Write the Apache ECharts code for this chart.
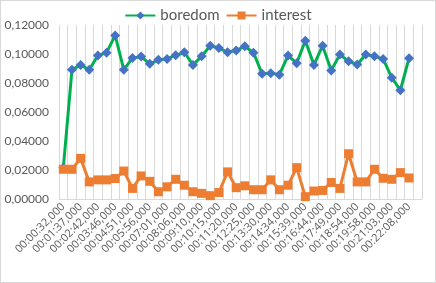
<!DOCTYPE html>
<html><head><meta charset="utf-8">
<script src="https://cdn.jsdelivr.net/npm/echarts@6/dist/echarts.min.js"></script>
<style>html,body{margin:0;padding:0;background:#fff}#c{width:434px;height:281px;border:1px solid #d9d9d9}</style>
</head><body><div id="c"></div>
<script>
var categories = ["00:00:32,000","00:01:04,000","00:01:37,000","00:02:09,000","00:02:42,000","00:03:14,000","00:03:46,000","00:04:18,000","00:04:51,000","00:05:23,000","00:05:56,000","00:06:28,000","00:07:01,000","00:07:33,000","00:08:06,000","00:08:38,000","00:09:10,000","00:09:42,000","00:10:15,000","00:10:47,000","00:11:20,000","00:11:52,000","00:12:25,000","00:12:57,000","00:13:30,000","00:14:02,000","00:14:34,000","00:15:06,000","00:15:39,000","00:16:11,000","00:16:44,000","00:17:16,000","00:17:49,000","00:18:21,000","00:18:54,000","00:19:26,000","00:19:58,000","00:20:30,000","00:21:03,000","00:21:35,000","00:22:08,000","00:22:40,000"];
var boredom = [0.0215,0.0891,0.0925,0.0891,0.0989,0.1009,0.1128,0.0891,0.0973,0.0982,0.0932,0.0960,0.0966,0.0991,0.1012,0.0925,0.0984,0.1057,0.1041,0.1012,0.1025,0.1053,0.1009,0.0864,0.0868,0.0857,0.0989,0.0937,0.1091,0.0925,0.1057,0.0887,0.0996,0.0950,0.0928,0.0996,0.0984,0.0966,0.0837,0.0750,0.0971,null];
var interest = [0.0205,0.0205,0.0280,0.0118,0.0132,0.0132,0.0141,0.0193,0.0073,0.0159,0.0122,0.0050,0.0084,0.0136,0.0095,0.0050,0.0039,0.0023,0.0045,0.0187,0.0078,0.0091,0.0064,0.0064,0.0132,0.0064,0.0095,0.0216,0.0016,0.0055,0.0059,0.0114,0.0073,0.0312,0.0118,0.0118,0.0205,0.0143,0.0136,0.0182,0.0145,null];
var yTicks = {min: 0, max: 0.12, interval: 0.02};

var chart = echarts.init(document.getElementById('c'));
var font = 'Lato, "Liberation Sans", sans-serif';
chart.setOption({
  animation: false,
  textStyle: {fontFamily: font},
  legend: {
    top: 2, left: 'center', itemWidth: 30, itemHeight: 10, itemGap: 6,
    textStyle: {fontSize: 15, color: '#595959', fontFamily: font},
    data: ['boredom', 'interest']
  },
  grid: {left: 58, right: 13, top: 24, bottom: 83},
  xAxis: {
    type: 'category', data: categories, boundaryGap: true,
    axisLine: {lineStyle: {color: '#d9d9d9'}},
    axisTick: {show: false},
    splitLine: {show: true, interval: 0, lineStyle: {color: '#d9d9d9', width: 1}},
    axisLabel: {interval: 1, rotate: 45, fontSize: 11, color: '#595959', margin: 6, fontFamily: '"Open Sans", sans-serif'}
  },
  yAxis: {
    type: 'value', min: yTicks.min, max: yTicks.max, interval: yTicks.interval,
    axisLine: {show: false}, axisTick: {show: false},
    splitLine: {show: false},
    axisLabel: {fontSize: 12, color: '#595959', margin: 10, fontFamily: font,
      formatter: function (v) { return v.toFixed(5).replace('.', ','); }}
  },
  series: [
    {name: 'boredom', type: 'line', data: boredom, symbol: 'diamond', symbolSize: 10, showAllSymbol: true,
     lineStyle: {color: '#00B050', width: 3}, itemStyle: {color: '#4472C4'}, z: 2},
    {name: 'interest', type: 'line', data: interest, symbol: 'rect', symbolSize: 9, showAllSymbol: true,
     lineStyle: {color: '#ED7D31', width: 3}, itemStyle: {color: '#ED7D31'}, z: 3}
  ]
});
</script></body></html>
